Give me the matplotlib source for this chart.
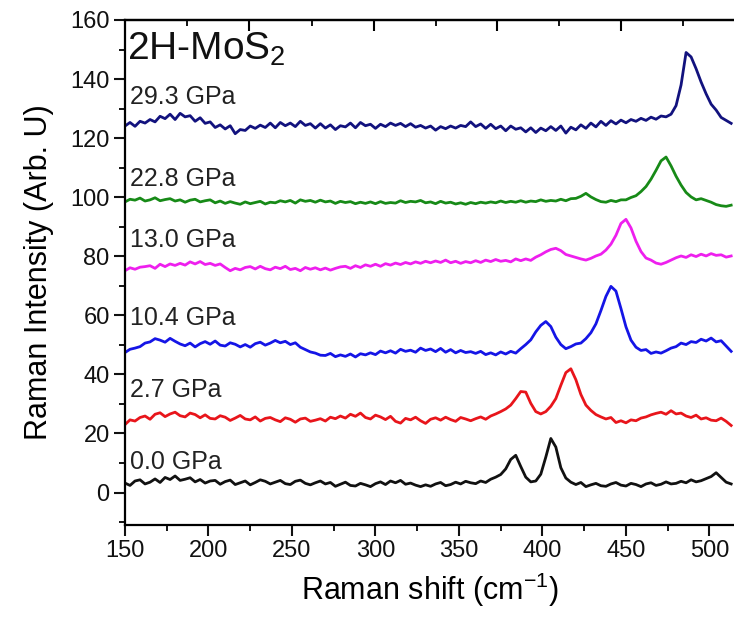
import numpy as np
import matplotlib
matplotlib.use("Agg")
import matplotlib.pyplot as plt
from matplotlib.ticker import MultipleLocator

plt.rcParams['font.family'] = ['Liberation Sans', 'DejaVu Sans']
plt.rcParams['mathtext.fontset'] = 'custom'
plt.rcParams['mathtext.rm'] = 'Liberation Sans'

# Raman shift sampling grid (cm^-1)
shift = np.arange(150, 514, 3)

p00 = [3.2, 2.4, 3.9, 4.3, 2.9, 3.5, 4.6, 3.4, 5.1, 4.4,
       5.6, 4.1, 4.5, 5.0, 3.6, 4.4, 3.2, 3.9, 4.1, 2.8,
       3.7, 4.2, 2.7, 3.3, 3.9, 2.6, 3.4, 4.3, 3.8, 2.9,
       3.5, 4.1, 3.0, 2.7, 3.8, 4.2, 3.1, 2.6, 3.3, 3.9,
       2.9, 3.4, 2.1, 2.8, 3.5, 2.4, 2.2, 3.1, 2.6, 2.0,
       3.0, 3.6, 2.7, 3.9, 3.3, 4.1, 2.8, 3.2, 2.5, 2.0,
       2.6, 2.1, 2.9, 3.4, 2.3, 2.7, 3.5, 2.9, 3.8, 3.3,
       3.0, 3.9, 3.4, 4.5, 5.2, 6.1, 8.0, 11.2, 12.6, 8.8,
       5.2, 3.6, 3.9, 6.2, 12.0, 18.3, 15.4, 8.4, 4.9, 3.5,
       2.7, 3.4, 2.0, 2.6, 3.1, 2.3, 2.1, 2.9, 3.4, 2.5,
       2.2, 3.1, 2.7, 2.0, 2.9, 3.3, 2.4, 2.8, 3.6, 2.9,
       3.1, 3.8, 3.3, 4.3, 3.6, 4.0, 4.7, 5.4, 6.7, 5.1,
       3.5, 2.9]

p27 = [23.0, 24.6, 24.2, 25.4, 25.9, 24.8, 26.5, 27.0, 25.7, 26.6,
       27.2, 26.0, 25.6, 26.9, 26.4, 25.3, 26.3, 25.1, 24.9, 26.0,
       25.5, 24.4, 25.2, 26.1, 24.9, 24.6, 25.6, 24.2, 25.1, 25.4,
       24.6, 24.0, 25.3, 24.8, 23.8, 24.9, 25.2, 24.1, 24.5, 25.0,
       24.2, 25.5, 25.0, 25.9, 25.2, 26.5, 25.8, 26.9, 25.4, 24.9,
       26.2, 25.6, 24.7, 25.8, 24.1, 23.5, 25.1, 24.6, 25.5, 24.3,
       23.4, 24.8, 25.3, 24.5, 25.5, 24.7, 24.1, 25.4, 24.9, 24.3,
       25.0, 25.6, 24.8, 25.9, 26.6, 27.4, 28.3, 29.6, 31.8, 34.2,
       34.0, 30.2, 27.4, 26.6, 27.4, 29.2, 31.8, 36.3, 40.6, 41.9,
       38.2, 33.2, 29.6, 27.8, 26.4, 25.6, 24.9, 25.4, 23.7, 24.3,
       23.6, 24.6, 24.3, 25.2, 25.6, 26.3, 26.8, 27.2, 26.5, 27.7,
       26.6, 26.9, 25.9, 25.4, 26.2, 24.9, 25.3, 24.5, 24.3, 25.2,
       24.1, 22.7]

p104 = [47.4, 48.5, 48.9, 49.4, 50.6, 51.0, 52.1, 51.6, 50.9, 52.2,
        51.2, 50.3, 49.7, 50.6, 49.3, 50.4, 51.1, 50.2, 51.3, 49.9,
        49.6, 50.7, 50.2, 49.3, 50.1, 49.2, 50.4, 50.9, 49.9, 50.6,
        51.5, 50.7, 51.2, 50.1, 50.7, 49.2, 48.4, 47.6, 47.2, 46.5,
        46.4, 47.1, 46.0, 46.6, 46.1, 46.9, 45.9, 47.0, 46.6, 47.3,
        46.7, 47.9, 47.3, 48.0, 47.2, 48.5, 47.8, 48.2, 47.5, 48.9,
        48.1, 48.6, 47.7, 48.8, 47.5, 48.4, 47.3, 48.1, 47.4, 47.7,
        47.1, 47.8, 46.7, 47.3, 46.6, 47.6, 46.9, 47.8, 47.2, 48.7,
        50.1, 51.7, 54.4, 56.6, 57.9, 56.2, 52.6, 50.1, 48.7, 49.4,
        50.3, 50.6, 52.1, 54.1, 57.1, 61.6, 66.4, 69.8, 68.2, 62.3,
        56.1, 51.6, 49.2, 48.1, 48.4, 47.1, 47.6, 47.2, 48.0, 48.9,
        49.4, 50.6, 50.1, 51.1, 50.8, 51.9, 51.3, 52.3, 51.0, 51.4,
        49.6, 47.8]

p130 = [75.1, 76.1, 75.6, 76.3, 76.5, 76.8, 75.9, 77.3, 76.5, 77.4,
        76.9, 77.6, 77.0, 78.1, 77.4, 78.2, 77.2, 77.6, 76.9, 77.4,
        76.2, 75.1, 75.9, 75.4, 76.2, 76.5, 75.7, 76.6, 75.8, 75.4,
        76.3, 75.8, 76.6, 75.5, 75.9, 75.1, 76.2, 75.6, 76.1, 75.4,
        76.0, 75.3, 75.9, 76.4, 76.6, 75.9, 76.8, 76.2, 77.1, 76.6,
        77.3, 76.6, 77.5, 77.0, 77.7, 77.2, 77.9, 77.4, 78.1, 77.6,
        78.3, 77.8, 78.4, 77.9, 78.7, 77.8, 78.3, 77.6, 78.2, 77.8,
        78.5, 77.9, 78.7, 78.2, 78.9, 78.3, 78.6, 78.1, 79.1, 78.5,
        79.1, 78.6, 79.7, 80.5, 81.5, 82.3, 82.7, 81.9, 80.6, 80.1,
        79.6, 79.1, 78.7, 79.3, 80.1, 80.7, 82.1, 84.1, 87.1, 91.1,
        92.5, 89.6, 85.1, 81.6, 79.4, 78.7, 77.7, 77.3, 77.9, 78.7,
        79.5, 80.1, 79.6, 80.5, 79.9, 80.7, 80.1, 80.9, 80.3, 80.5,
        79.7, 80.1]

p228 = [98.4, 99.3, 99.0, 99.7, 98.7, 99.1, 99.8, 98.8, 99.2, 99.5,
        98.7, 99.1, 98.3, 99.0, 99.3, 98.4, 98.8, 99.1, 98.1, 98.7,
        97.9, 98.5, 98.0, 97.6, 98.4, 97.8, 98.2, 98.6, 97.7, 98.3,
        98.1, 98.8, 98.4, 98.9, 98.0, 99.1, 98.6, 98.9, 98.3, 99.0,
        98.4, 98.7, 97.9, 98.6, 98.2, 98.5, 97.8, 98.3, 97.9, 98.4,
        97.8, 98.5, 97.9, 98.2, 98.0, 98.8, 98.2, 98.6, 98.4, 98.9,
        98.1, 98.4, 97.8, 98.6, 98.0, 98.3, 97.7, 98.1, 97.6, 98.2,
        97.8, 98.3, 98.0, 98.4, 98.1, 98.7, 98.2, 98.6, 98.3, 98.8,
        98.3, 98.7, 98.5, 99.1, 98.6, 98.9, 98.7, 99.3, 98.8, 99.5,
        99.6, 100.3, 101.3, 100.1, 99.2, 98.5, 98.3, 98.9, 98.5, 99.1,
        99.1, 99.9, 100.5, 101.9, 103.6, 106.1, 109.1, 112.3, 113.6, 110.6,
        107.1, 104.1, 101.6, 100.1, 99.1, 99.5, 98.9, 98.3, 97.5, 97.1,
        96.9, 97.3]

p293 = [124.1, 125.3, 124.0, 125.7, 125.1, 126.3, 125.5, 127.4, 126.6, 128.1,
        126.3, 128.4, 127.2, 127.6, 125.7, 126.9, 125.0, 125.5, 123.6, 124.5,
        123.1, 124.2, 121.5, 122.9, 122.6, 124.1, 123.3, 124.4, 123.6, 125.1,
        123.5, 125.3, 124.2, 125.1, 123.9, 125.7, 124.3, 124.9, 123.4, 124.9,
        123.4, 124.5, 122.9, 124.2, 123.8, 125.1, 123.5, 125.3, 124.2, 124.7,
        123.3, 124.7, 123.9, 125.1, 124.3, 125.0, 123.9, 124.9, 123.7, 124.3,
        123.4, 124.1, 122.7, 123.9, 123.2, 124.1, 123.4, 124.3, 123.9, 125.5,
        123.9, 124.8, 123.3, 124.7, 123.2, 124.1, 122.5, 124.1, 123.0, 123.5,
        122.1, 123.5, 121.9, 123.4, 122.5, 123.9, 122.6, 124.1, 121.7, 123.7,
        122.8, 124.5, 123.3, 125.1, 123.8, 125.7, 124.3, 125.9, 124.8, 126.1,
        125.2, 126.3, 125.7, 126.7, 126.0, 127.1, 126.4, 127.5, 127.2, 128.1,
        131.0, 138.0, 149.0, 147.5, 143.5, 139.0, 135.0, 131.5, 129.5, 127.0,
        126.0, 125.0]

series = [p00, p27, p104, p130, p228, p293]
labels = ["0.0 GPa", "2.7 GPa", "10.4 GPa", "13.0 GPa", "22.8 GPa", "29.3 GPa"]
colors = ["#111111", "#e8151b", "#1515e6", "#ee1fee", "#178a17", "#12127e"]
label_y = [10.5, 34.8, 59.2, 85.6, 106.0, 134.0]

fig = plt.figure(figsize=(7.34, 6.17), dpi=100)
ax = fig.add_axes([125/734, 1 - 525/617, 1 - 125/734, (525 - 20)/617])

for y, c in zip(series, colors):
    ax.plot(shift, y, color=c, lw=2.0)

for lab, ly in zip(labels, label_y):
    ax.text(153.0, ly, lab, fontsize=18, va='center', ha='left', color='#222222')

ax.text(151.0, 146.5, "2H-MoS$_2$", fontsize=28, va='baseline', ha='left', color='#111111')

ax.set_xlim(150, 514.7)
ax.set_ylim(-11, 160)
ax.xaxis.set_major_locator(MultipleLocator(50))
ax.xaxis.set_minor_locator(MultipleLocator(25))
ax.yaxis.set_major_locator(MultipleLocator(20))
ax.yaxis.set_minor_locator(MultipleLocator(10))
ax.tick_params(axis='both', which='major', direction='out', length=8, width=1.5,
               labelsize=17, colors='#111111', pad=3)
ax.tick_params(axis='both', which='minor', direction='out', length=4.5, width=1.3)
ax.tick_params(top=False, right=False)
for s in ['left', 'bottom', 'top']:
    ax.spines[s].set_linewidth(1.6)
ax.spines['right'].set_visible(False)

top = ax.secondary_xaxis('top')
top.set_xticks([224, 299, 373, 447])
top.set_xticks([187, 262, 336, 410, 484], minor=True)
top.tick_params(which='major', direction='in', length=8, width=1.5, labeltop=False)
top.tick_params(which='minor', direction='in', length=4.5, width=1.3)
top.spines['top'].set_linewidth(1.6)

ax.set_xlabel("Raman shift (cm$^{-1}$)", fontsize=22, labelpad=6)
ax.set_ylabel("Raman Intensity (Arb. U)", fontsize=22, labelpad=12)

fig.savefig("out.png", dpi=100)
